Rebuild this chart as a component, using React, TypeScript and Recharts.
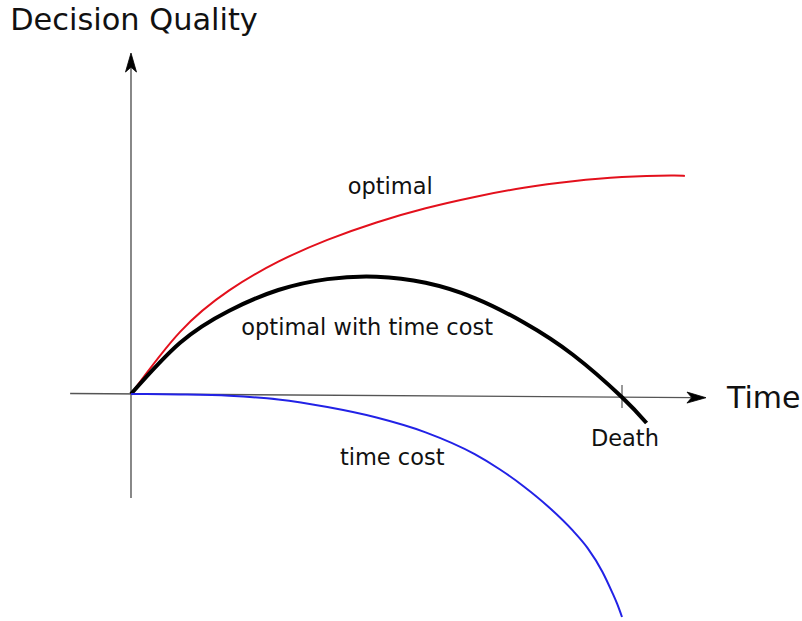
import React from 'react';
import { LineChart, Line, XAxis, YAxis, ReferenceLine, ReferenceDot } from 'recharts';

// time: 0 = start, 10 = death; quality: 0 = the time axis
const optimal = [
    { t: 0, q: 0 }, { t: 1, q: 2.85 }, { t: 2, q: 4.75 }, { t: 3, q: 6.07 }, { t: 4, q: 7.07 },
    { t: 5, q: 7.87 }, { t: 6, q: 8.52 }, { t: 7, q: 9.04 }, { t: 8, q: 9.46 }, { t: 9, q: 9.76 },
    { t: 10, q: 9.95 }, { t: 11, q: 10.02 }, { t: 11.28, q: 10.0 },
];

const withTimeCost = [
    { t: 0, q: 0 }, { t: 1, q: 2.35 }, { t: 2, q: 3.82 }, { t: 3, q: 4.77 }, { t: 4, q: 5.27 },
    { t: 5, q: 5.38 }, { t: 6, q: 5.1 }, { t: 7, q: 4.4 }, { t: 8, q: 3.28 }, { t: 9, q: 1.8 },
    { t: 10, q: -0.15 }, { t: 10.5, q: -1.33 },
];

const timeCost = [
    { t: 0, q: 0 }, { t: 1, q: -0.02 }, { t: 2, q: -0.08 }, { t: 3, q: -0.25 }, { t: 4, q: -0.6 },
    { t: 5, q: -1.08 }, { t: 6, q: -1.76 }, { t: 7, q: -2.76 }, { t: 7.5, q: -3.44 }, { t: 8, q: -4.24 },
    { t: 8.5, q: -5.17 }, { t: 9, q: -6.27 }, { t: 9.3, q: -7.07 }, { t: 9.6, q: -8.15 },
    { t: 9.8, q: -9.1 }, { t: 9.9, q: -9.62 }, { t: 10, q: -10.23 },
];

const curveLabels = [
    { text: 'optimal', t: 5.28, q: 9.54, size: 22.5, anchor: 'middle' },
    { text: 'optimal with time cost', t: 4.81, q: 3.07, size: 22.5, anchor: 'middle' },
    { text: 'time cost', t: 5.32, q: -2.89, size: 22.5, anchor: 'middle' },
    { text: 'Death', t: 10.06, q: -2.02, size: 22.5, anchor: 'middle' },
    { text: 'Decision Quality', t: -2.46, q: 17.16, size: 30.4, anchor: 'start' },
    { text: 'Time', t: 12.14, q: -0.14, size: 30, anchor: 'start' },
];

const FONT = '"DejaVu Sans", Verdana, sans-serif';

const arrowLine = (props: any) => {
    const { x1, y1, x2, y2 } = props;
    const dx = x2 - x1;
    const dy = y2 - y1;
    const len = Math.sqrt(dx * dx + dy * dy) || 1;
    const ux = dx / len;
    const uy = dy / len;
    const px = -uy;
    const py = ux;
    const L = 19;
    const W = 5.5;
    const bx = x2 - ux * L;
    const by = y2 - uy * L;
    const ix = x2 - ux * L * 0.75;
    const iy = y2 - uy * L * 0.75;
    const d = `M${x2},${y2} L${bx + px * W},${by + py * W} L${ix},${iy} L${bx - px * W},${by - py * W} Z`;
    return (
        <g>
            <line x1={x1} y1={y1} x2={ix} y2={iy} stroke="#555" strokeWidth={1.4} />
            <path d={d} fill="#000" stroke="#000" strokeWidth={0.8} strokeLinejoin="miter" />
        </g>
    );
};

const textLabel = (text: string, size: number, anchor: string) => (props: any) => {
    const vb = props.viewBox || {};
    const cx = (vb.x || 0) + (vb.width || 0) / 2;
    const cy = (vb.y || 0) + (vb.height || 0) / 2;
    return (
        <text x={cx} y={cy} textAnchor={anchor} dominantBaseline="central" fontSize={size} fontFamily={FONT} fill="#111">
            {text}
        </text>
    );
};

export default function App() {
    return (
        <div style={{ position: 'absolute', left: 0, top: 0, width: 802, height: 621, background: '#fff' }}>
            <LineChart width={802} height={621} margin={{ top: 0, right: 0, bottom: 0, left: 0 }}>
                <XAxis type="number" dataKey="t" domain={[-2.668, 13.666]} hide allowDataOverflow />
                <YAxis type="number" dataKey="q" domain={[-10.413, 18.073]} hide allowDataOverflow />
                <ReferenceLine
                    segment={[{ x: 0, y: -4.77 }, { x: 0, y: 15.64 }]}
                    shape={arrowLine}
                    ifOverflow="visible"
                />
                <ReferenceLine
                    segment={[{ x: -1.24, y: 0.02 }, { x: 11.71, y: -0.17 }]}
                    shape={arrowLine}
                    ifOverflow="visible"
                />
                <ReferenceLine
                    segment={[{ x: 10, y: 0.41 }, { x: 10, y: -0.64 }]}
                    stroke="#555"
                    strokeWidth={1.2}
                    ifOverflow="visible"
                />
                <Line data={optimal} dataKey="q" type="natural" stroke="#e3101c" strokeWidth={2} dot={false} activeDot={false} isAnimationActive={false} />
                <Line data={withTimeCost} dataKey="q" type="natural" stroke="#000" strokeWidth={4} dot={false} activeDot={false} isAnimationActive={false} />
                <Line data={timeCost} dataKey="q" type="monotone" stroke="#2222e6" strokeWidth={2} dot={false} activeDot={false} isAnimationActive={false} />
                {curveLabels.map((l) => (
                    <ReferenceDot
                        key={l.text}
                        x={l.t}
                        y={l.q}
                        r={0}
                        fill="none"
                        stroke="none"
                        ifOverflow="visible"
                        label={textLabel(l.text, l.size, l.anchor)}
                    />
                ))}
            </LineChart>
        </div>
    );
}
